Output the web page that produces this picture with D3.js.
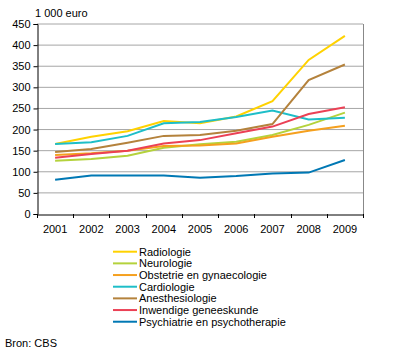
<!DOCTYPE html>
<html>
<head>
<meta charset="utf-8">
<script src="https://cdn.jsdelivr.net/npm/d3@7"></script>
<style>
  body { margin: 0; background: #fff; }
  text { font-family: Arial, "Liberation Sans", sans-serif; font-size: 11px; fill: #000; }
</style>
</head>
<body>
<svg></svg>
<script>
const width = 396, height = 354;
const svg = d3.select("svg").attr("width", width).attr("height", height);

// Data (1 000 euro)
const years = ["2001", "2002", "2003", "2004", "2005", "2006", "2007", "2008", "2009"];
const yTicks = [0, 50, 100, 150, 200, 250, 300, 350, 400, 450];

const radiologie   = [166, 183, 196, 220, 215, 231, 267, 365, 422];
const neurologie   = [126, 130, 138, 157, 165, 171, 187, 211, 240];
const obstetrie    = [140, 144, 150, 161, 162, 167, 183, 197, 209];
const cardiologie  = [166, 170, 185, 215, 218, 230, 245, 224, 228];
const anesthesie   = [147, 154, 169, 185, 187, 197, 213, 317, 354];
const inwendige    = [133, 142, 150, 167, 175, 191, 207, 237, 253];
const psychiatrie  = [81, 91, 91, 91, 86, 90, 96, 98, 128];

const seriesNames = ["Radiologie", "Neurologie", "Obstetrie en gynaecologie", "Cardiologie",
                     "Anesthesiologie", "Inwendige geneeskunde", "Psychiatrie en psychotherapie"];
const seriesColors = ["#ffd200", "#b4d23c", "#f5a01e", "#1ebec8", "#b4823c", "#eb4155", "#0078b4"];
const seriesValues = [radiologie, neurologie, obstetrie, cardiologie, anesthesie, inwendige, psychiatrie];

const margin = { left: 37, right: 33, top: 24, bottom: 140 };
const x = d3.scaleBand().domain(years).range([margin.left, width - margin.right]);
const y = d3.scaleLinear().domain([0, 450]).range([214, 24]);

// gridlines
svg.append("g")
    .selectAll("line")
    .data(yTicks.filter(d => d > 0))
    .enter().append("line")
    .attr("x1", margin.left).attr("x2", width - margin.right)
    .attr("y1", d => y(d)).attr("y2", d => y(d))
    .attr("stroke", "#a6a6a6").attr("stroke-width", 1);

// right border
svg.append("line")
    .attr("x1", width - margin.right + 0.5).attr("x2", width - margin.right + 0.5)
    .attr("y1", y(450)).attr("y2", y(0))
    .attr("stroke", "#888");

// y axis
const yAxis = svg.append("g")
    .attr("transform", `translate(${margin.left + 0.5},0)`)
    .call(d3.axisLeft(y).tickValues(yTicks).tickSize(4).tickPadding(3));
yAxis.select(".domain").attr("stroke", "#000");
yAxis.selectAll("text").style("font-size", "11px");

// x axis
const xAxis = svg.append("g")
    .attr("transform", `translate(0,${y(0) + 0.5})`)
    .call(d3.axisBottom(x).tickSize(0).tickPadding(11));
xAxis.select(".domain").attr("stroke", "#000");
xAxis.selectAll("text").style("font-size", "11px");
svg.append("g")
    .selectAll("line")
    .data(years.concat(["end"]))
    .enter().append("line")
    .attr("x1", (d, i) => Math.round(margin.left + i * x.step()) + 0.5)
    .attr("x2", (d, i) => Math.round(margin.left + i * x.step()) + 0.5)
    .attr("y1", y(0)).attr("y2", y(0) + 4)
    .attr("stroke", "#000");

svg.append("text").attr("x", 35).attr("y", 17).text("1 000 euro");

// lines
const line = d3.line()
    .x((d, i) => x(years[i]) + x.bandwidth() / 2)
    .y(d => y(d));

svg.append("g")
    .selectAll("path")
    .data(seriesValues)
    .enter().append("path")
    .attr("d", d => line(d))
    .attr("fill", "none")
    .attr("stroke", (d, i) => seriesColors[i])
    .attr("stroke-width", 2);

// legend
const legend = svg.append("g")
    .selectAll("g")
    .data(seriesNames)
    .enter().append("g")
    .attr("transform", (d, i) => `translate(113,${251.7 + i * 11.67})`);
legend.append("line")
    .attr("x1", 0).attr("x2", 24)
    .attr("stroke", (d, i) => seriesColors[i])
    .attr("stroke-width", 2);
legend.append("text")
    .attr("x", 26).attr("y", 4)
    .text(d => d);

svg.append("text").attr("x", 5).attr("y", 347).text("Bron: CBS");
</script>
</body>
</html>
